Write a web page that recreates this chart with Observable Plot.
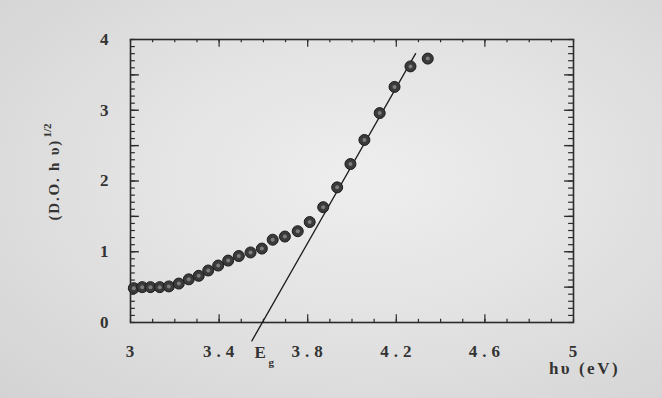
<!DOCTYPE html>
<html>
<head>
<meta charset="utf-8">
<script src="https://cdn.jsdelivr.net/npm/d3@7"></script>
<script src="https://cdn.jsdelivr.net/npm/@observablehq/plot@0.6"></script>
<style>
html, body { margin: 0; padding: 0; }
body {
  width: 662px; height: 398px; overflow: hidden;
  background: radial-gradient(ellipse at 55% 45%, #eeeeee 0%, #e3e3e3 45%, #d3d3d3 100%);
}
#chart svg { display: block; background: transparent; }
g[aria-label="x-axis tick label"] text { letter-spacing: 5px; }
</style>
</head>
<body>
<div id="chart"></div>
<script>
// photon energy hν (eV)
const energy = [3.015, 3.053, 3.090, 3.132, 3.173, 3.218, 3.263, 3.308, 3.351, 3.396,
                3.441, 3.489, 3.542, 3.593, 3.642, 3.697, 3.755, 3.809, 3.870, 3.933,
                3.993, 4.056, 4.125, 4.192, 4.264, 4.342];
// (D.O. hν)^1/2
const absorb = [0.485, 0.50, 0.50, 0.50, 0.51, 0.55, 0.61, 0.66, 0.735, 0.805,
                0.875, 0.94, 0.99, 1.045, 1.17, 1.215, 1.29, 1.42, 1.63, 1.91,
                2.24, 2.58, 2.96, 3.33, 3.62, 3.73];
// linear extrapolation line (endpoints)
const fitX = [3.548, 4.287];
const fitY = [-0.26, 3.80];
// band gap where the line meets the axis
const egValue = [3.595];
// tick labels
const xTickLabels = [3, 3.4, 3.8, 4.2, 4.6, 5];
const yTickLabels = [0, 1, 2, 3, 4];
// titles
const xTitle = ["hυ (eV)"];
const yTitle = ["(D.O. h υ)"];
const yTitleSup = ["1/2"];

const points = energy.map((x, i) => ({x, y: absorb[i]}));
const fit = fitX.map((x, i) => ({x, y: fitY[i]}));

const xMinor = d3.range(30, 51).map(d => d / 10);
const xMajor = xTickLabels.slice(1, -1);
const yMinor = d3.range(0, 41).map(d => d / 10);
const yMajor = d3.range(1, 8).map(d => d / 2);

const ink = "#2b2b2b";
const font = "'Liberation Serif', 'DejaVu Serif', serif";

const chart = Plot.plot({
  width: 662,
  height: 398,
  marginLeft: 130,
  marginRight: 89,
  marginTop: 39,
  marginBottom: 76,
  style: {background: "transparent", fontFamily: font, color: ink},
  x: {domain: [3, 5]},
  y: {domain: [0, 4]},
  marks: [
    // inward minor/major ticks on all four sides
    Plot.ruleX(xMinor, {x: d => d, y1: 0, y2: 0.045, stroke: ink, strokeWidth: 1.2}),
    Plot.ruleX(xMajor, {x: d => d, y1: 0, y2: 0.11, stroke: ink, strokeWidth: 1.2}),
    Plot.ruleX(xMinor, {x: d => d, y1: 4, y2: 3.955, stroke: ink, strokeWidth: 1.2}),
    Plot.ruleX(xMajor, {x: d => d, y1: 4, y2: 3.89, stroke: ink, strokeWidth: 1.2}),
    Plot.ruleY(yMinor, {y: d => d, x1: 3, x2: 3.022, stroke: ink, strokeWidth: 1.2}),
    Plot.ruleY(yMajor, {y: d => d, x1: 3, x2: 3.04, stroke: ink, strokeWidth: 1.4}),
    Plot.ruleY(yMinor, {y: d => d, x1: 5, x2: 4.978, stroke: ink, strokeWidth: 1.2}),
    Plot.ruleY(yMajor, {y: d => d, x1: 5, x2: 4.96, stroke: ink, strokeWidth: 1.4}),
    Plot.frame({stroke: ink, strokeWidth: 1.6}),
    Plot.axisX({
      ticks: xTickLabels, tickSize: 0, tickPadding: 22, fontSize: 17, fontWeight: "bold",
      tickFormat: d => (Number.isInteger(d) ? String(d) : d.toFixed(1)),
      label: null, fill: "#333", dx: 2
    }),
    Plot.axisY({
      ticks: yTickLabels, tickSize: 0, tickPadding: 22, fontSize: 17, fontWeight: "bold",
      tickFormat: d => String(d), label: null, fill: "#333"
    }),
    // extrapolated straight line
    Plot.line(fit, {x: "x", y: "y", stroke: "#1e1e1e", strokeWidth: 1.3}),
    // data points
    Plot.dot(points, {x: "x", y: "y", r: 5.5, fill: "#3a3a3a", stroke: "#1c1c1c", strokeWidth: 1}),
    Plot.dot(points, {x: "x", y: "y", r: 2, fill: "#7d7d7d"}),
    // E_g label
    Plot.text(egValue, {x: d => d, frameAnchor: "bottom", text: () => "E", dx: -2, dy: 30,
      fontSize: 17, fontWeight: "bold", fill: "#333", lineAnchor: "middle"}),
    Plot.text(egValue, {x: d => d, frameAnchor: "bottom", text: () => "g", dx: 9, dy: 40,
      fontSize: 11, fontWeight: "bold", fill: "#333", lineAnchor: "middle"}),
    // x-axis title
    Plot.text(xTitle, {frameAnchor: "bottom-right", dx: 11, dy: 46, fontSize: 17,
      fontWeight: "bold", fill: "#333", lineAnchor: "middle", textAnchor: "middle",
      text: d => d}),
    // y-axis title with superscript
    Plot.text(yTitle, {frameAnchor: "left", dx: -76.5, dy: 39.5, rotate: -90,
      textAnchor: "start", lineAnchor: "middle", fontSize: 15, fontWeight: "bold", fill: "#333",
      text: d => d}),
    Plot.text(yTitleSup, {frameAnchor: "left", dx: -83, dy: -43.5, rotate: -90,
      textAnchor: "start", lineAnchor: "middle", fontSize: 11, fontWeight: "bold", fill: "#333",
      text: d => d})
  ]
});
// spread out the title lettering like the typewritten original
d3.select(chart).selectAll("text").each(function() {
  const t = this.textContent;
  if (t === xTitle[0]) { this.style.letterSpacing = "2.5px"; this.style.whiteSpace = "pre"; }
  if (t === yTitle[0]) { this.style.letterSpacing = "1.8px"; this.style.whiteSpace = "pre"; }
});
document.getElementById("chart").appendChild(chart);
</script>
</body>
</html>
